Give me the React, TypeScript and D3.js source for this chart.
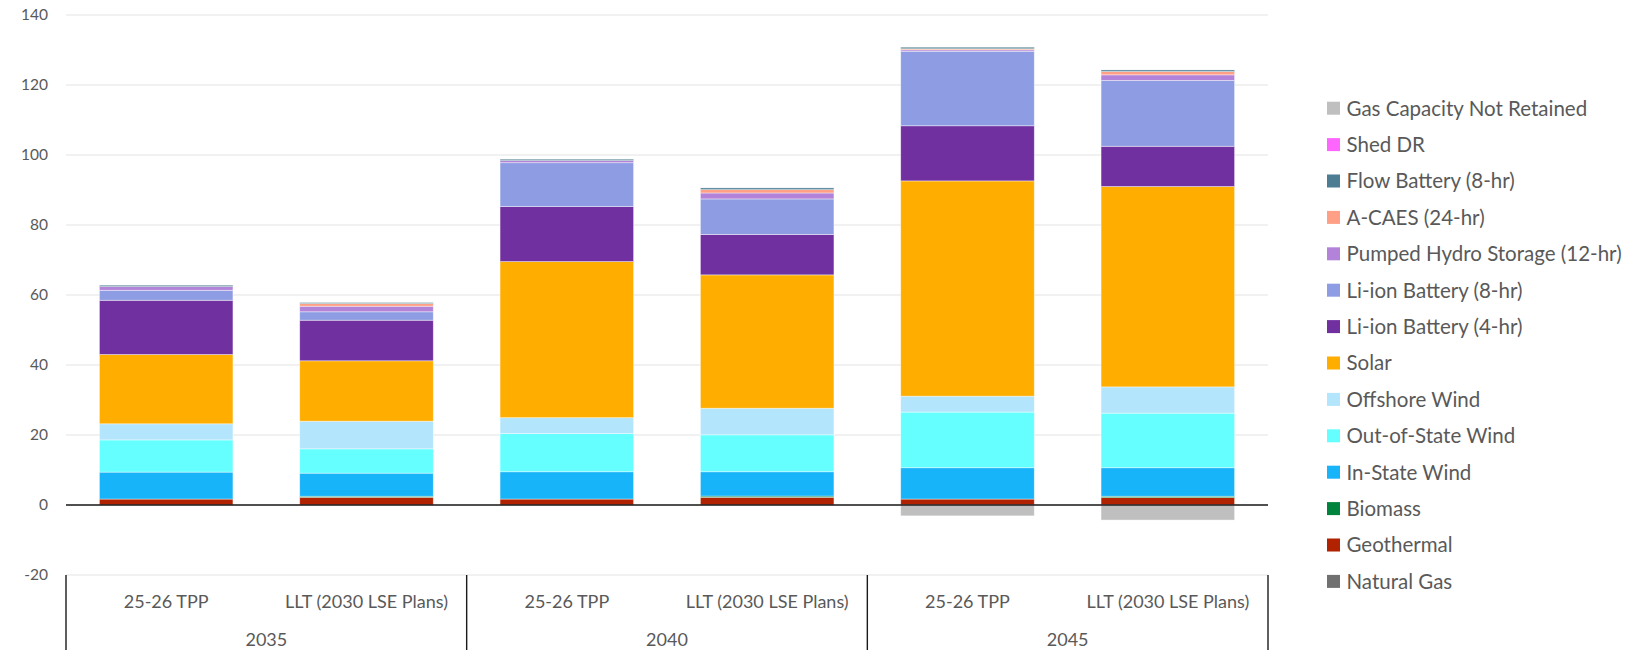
import React from "react";
import * as d3 from "d3";

// ---- data ----
const years = ["2035", "2040", "2045"];
const scenarios = ["25-26 TPP", "LLT (2030 LSE Plans)"];
const yTicks = [-20, 0, 20, 40, 60, 80, 100, 120, 140];

// series values, one per (year, scenario) column, bottom of stack first
const naturalGas = [0, 0, 0, 0, 0, 0];
const geothermal = [1.7, 2.2, 1.7, 2.2, 1.7, 2.1];
const biomass = [0, 0.3, 0, 0.35, 0, 0.4];
const inStateWind = [7.7, 6.6, 7.8, 6.95, 8.95, 8.15];
const outOfStateWind = [9.2, 6.95, 10.9, 10.55, 15.9, 15.6];
const offshoreWind = [4.6, 7.9, 4.55, 7.6, 4.55, 7.5];
const solar = [19.8, 17.25, 44.6, 38.1, 61.5, 57.25];
const liIon4 = [15.5, 11.6, 15.7, 11.55, 15.75, 11.5];
const liIon8 = [2.85, 2.4, 12.55, 10.15, 21.3, 18.8];
const pumpedHydro = [1.05, 1.6, 0.6, 1.7, 0.4, 1.6];
const aCaes = [0, 0.75, 0, 0.95, 0.3, 0.95];
const flowBattery = [0.4, 0.3, 0.4, 0.5, 0.45, 0.45];
const shedDR = [0, 0, 0, 0, 0, 0];
const gasNotRetained = [0, 0, 0, 0, -3.1, -4.3];

const seriesNames = [
  "Natural Gas",
  "Geothermal",
  "Biomass",
  "In-State Wind",
  "Out-of-State Wind",
  "Offshore Wind",
  "Solar",
  "Li-ion Battery (4-hr)",
  "Li-ion Battery (8-hr)",
  "Pumped Hydro Storage (12-hr)",
  "A-CAES (24-hr)",
  "Flow Battery (8-hr)",
  "Shed DR",
  "Gas Capacity Not Retained",
];
const seriesValues = [
  naturalGas,
  geothermal,
  biomass,
  inStateWind,
  outOfStateWind,
  offshoreWind,
  solar,
  liIon4,
  liIon8,
  pumpedHydro,
  aCaes,
  flowBattery,
  shedDR,
  gasNotRetained,
];
const seriesColors = [
  "#707070",
  "#B02200",
  "#00843D",
  "#18B4F9",
  "#66FFFF",
  "#B3E5FC",
  "#FFAE00",
  "#7030A0",
  "#8E9DE3",
  "#B283D8",
  "#FFA086",
  "#4C7D92",
  "#FF66FF",
  "#BFBFBF",
];

const W = 1628;
const H = 650;
const FONT = "Lato, 'Open Sans', sans-serif";
const TXT = "#595959";

export default function App() {
  const columns = years.flatMap((yr) => scenarios.map((s) => ({ key: yr + "|" + s, year: yr, scen: s })));
  const rows = columns.map((c, i) => {
    const r: any = { key: c.key };
    seriesNames.forEach((n, j) => (r[n] = seriesValues[j][i]));
    return r;
  });
  const stack = d3.stack<any>().keys(seriesNames).offset(d3.stackOffsetDiverging);
  const layers = stack(rows);

  const plotL = 66;
  const plotR = 1268;
  const x = d3
    .scaleBand<string>()
    .domain(columns.map((c) => c.key))
    .range([plotL, plotR])
    .paddingInner(1 / 3)
    .paddingOuter(1 / 6);
  const y = d3.scaleLinear().domain([-20, 140]).range([575, 15]);
  const step = x.step();

  const legendItems = seriesNames.map((n, i) => ({ n, c: seriesColors[i] })).reverse();

  return (
    <svg
      width={W}
      height={H}
      style={{ position: "absolute", left: 0, top: 0, background: "#fff" }}
      fontFamily={FONT}
    >
      {/* gridlines */}
      {yTicks.map((t) => (
        <line key={"g" + t} x1={plotL} x2={plotR} y1={y(t)} y2={y(t)} stroke="#EDEDED" strokeWidth={1.3} />
      ))}
      {/* y tick labels */}
      {yTicks.map((t) => (
        <text key={"t" + t} x={48} y={y(t)} dy="0.35em" textAnchor="end" fontSize={15.5} fill={TXT}>
          {t}
        </text>
      ))}
      {/* bars */}
      {layers.map((layer, li) => (
        <g key={layer.key} fill={seriesColors[li]}>
          {layer.map((d, i) => {
            const y0 = y(d[0]);
            const y1 = y(d[1]);
            const h = Math.abs(y0 - y1);
            if (h < 0.01) return null;
            return (
              <rect
                key={i}
                x={x(columns[i].key)}
                width={x.bandwidth()}
                y={Math.min(y0, y1)}
                height={h}
                stroke="#ffffff"
                strokeOpacity={0.55}
                strokeWidth={0.75}
              />
            );
          })}
        </g>
      ))}
      {/* zero line */}
      <line x1={plotL} x2={plotR} y1={y(0)} y2={y(0)} stroke="#1a1a1a" strokeWidth={1.6} />
      {/* category axis separators */}
      {years.map((yr, gi) => {
        const gx = plotL + gi * step * scenarios.length;
        return <line key={"s" + yr} x1={gx} x2={gx} y1={y(-20)} y2={H} stroke="#1a1a1a" strokeWidth={1.4} />;
      })}
      <line x1={plotR} x2={plotR} y1={y(-20)} y2={H} stroke="#1a1a1a" strokeWidth={1.4} />
      {/* scenario labels */}
      {columns.map((c) => (
        <text
          key={"c" + c.key}
          x={(x(c.key) as number) + x.bandwidth() / 2}
          y={608}
          textAnchor="middle"
          fontSize={18}
          fill={TXT}
        >
          {c.scen}
        </text>
      ))}
      {/* year labels */}
      {years.map((yr, gi) => (
        <text
          key={"y" + yr}
          x={plotL + (gi + 0.5) * step * scenarios.length}
          y={646}
          textAnchor="middle"
          fontSize={18}
          fill={TXT}
        >
          {yr}
        </text>
      ))}
      {/* legend */}
      {legendItems.map((it, i) => {
        const cy = 108.2 + i * 36.4;
        return (
          <g key={"l" + it.n}>
            <rect x={1327} y={cy - 6.5} width={13} height={13} fill={it.c} />
            <text x={1346.5} y={cy} dy="0.36em" fontSize={20.5} fill={TXT}>
              {it.n}
            </text>
          </g>
        );
      })}
    </svg>
  );
}
